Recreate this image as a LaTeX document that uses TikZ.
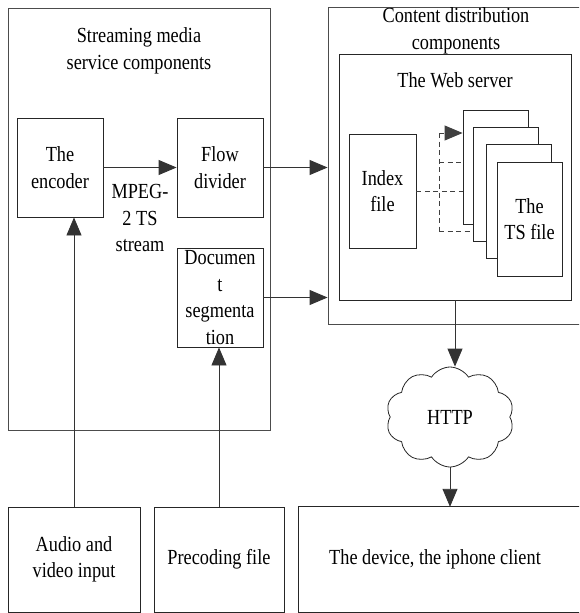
\documentclass[tikz,border=0pt]{standalone}
\usepackage{fontspec}
\setmainfont{Liberation Serif}[FakeStretch=0.85]
\usetikzlibrary{arrows.meta,shapes.symbols,calc}
\begin{document}
\begin{tikzpicture}[x=1pt,y=-1pt,
  every node/.style={font=\fontsize{21.5}{26.5}\selectfont, align=center, inner sep=0pt},
  box/.style={draw=black!85, line width=0.9pt, fill=white},
  edge/.style={draw=black!85, line width=0.9pt},
  outer/.style={draw=black!70, line width=0.9pt},
  txt/.style={draw=none},
  arw/.style={draw=black!80, line width=0.9pt, -{Triangle[length=18pt,width=15pt]}},
  dsh/.style={draw=black!75, line width=0.9pt, dash pattern=on 5pt off 3.5pt},
  tsbox/.style={box, minimum width=65pt, minimum height=114pt}]
\clip (0,0) rectangle (579,613);
\fill[white] (0,0) rectangle (579,613);

% Streaming media service components
\node[outer, minimum width=262pt, minimum height=422pt] (stream) at (139,219) {};
\node[txt] (streamt) at (139,51) {Streaming media\\service components};
\node[box, minimum width=86pt, minimum height=99pt] (enc) at (60,167.5) {The\\encoder};
\node[box, minimum width=86pt, minimum height=99pt] (flow) at (220,167.5) {Flow\\divider};
\node[box, minimum width=86pt, minimum height=99pt] (doc) at (220,297.5) {Documen\\t\\segmenta\\tion};
\node[txt] (mpeg) at (140,218) {MPEG-\\2 TS\\stream};

% Content distribution components
\node[outer, minimum width=272pt, minimum height=317pt] (content) at (464,165.5) {};
\node[box, minimum width=232pt, minimum height=246pt] (web) at (455,177) {};
\node[txt] (contentt) at (456,31) {Content distribution\\components};
\node[txt] (webt) at (455,80) {The Web server};
\node[box, minimum width=67pt, minimum height=114pt] (index) at (382.5,191) {Index\\file};

% dashed links
\coordinate (ttop) at (439,133);
\coordinate (tmid) at (439,162);
\coordinate (tbot) at (439,231);

\node[tsbox] (ts1) at (495.5,167) {};
\draw[dsh] (ttop) -- (tbot);
\draw[dsh] (index.east) -- (index.east -| ts1.west);
\draw[dsh] (tmid) -- (tmid -| ts1.west);
\draw[dsh, -{Triangle[length=18pt,width=15pt]}] (ttop) -- (ttop -| ts1.west);
\node[tsbox] (ts2) at (505.5,184) {};
\draw[dsh] (tbot) -- (tbot -| ts2.west);
\node[tsbox] (ts3) at (518.5,201) {};
\node[tsbox] (ts4) at (529.5,219) {The\\TS file};

% inputs
\node[box, minimum width=132pt, minimum height=105pt] (audio) at (74,559.5) {Audio and\\video input};
\node[box, minimum width=130pt, minimum height=105pt] (pre) at (219,559.5) {Precoding file};
\node[txt, minimum width=272pt, minimum height=105pt] (dev) at (435,559.5) {The device, the iphone client};
\draw[edge] ($(dev.north east)+(60,0)$) -- (dev.north west) -- (dev.south west) -- ($(dev.south east)+(60,0)$);

% cloud
\node[cloud, draw=black!85, line width=0.8pt, cloud puffs=10, cloud puff arc=115, aspect=1.3,
      minimum width=128pt, minimum height=100pt] (cloud) at (450,417) {HTTP};

% connectors
\draw[arw] (enc.east) -- (flow.west);
\draw[arw] (flow.east) -- (flow.east -| content.west);
\draw[arw] (doc.east) -- (doc.east -| content.west);
\draw[arw] (audio.north) -- (audio.north |- enc.south);
\draw[arw] (pre.north) -- (pre.north |- doc.south);
\draw[arw] (web.south) -- (web.south |- cloud.north);
\draw[arw] (cloud.south) -- (cloud.south |- dev.north);
\end{tikzpicture}
\end{document}
